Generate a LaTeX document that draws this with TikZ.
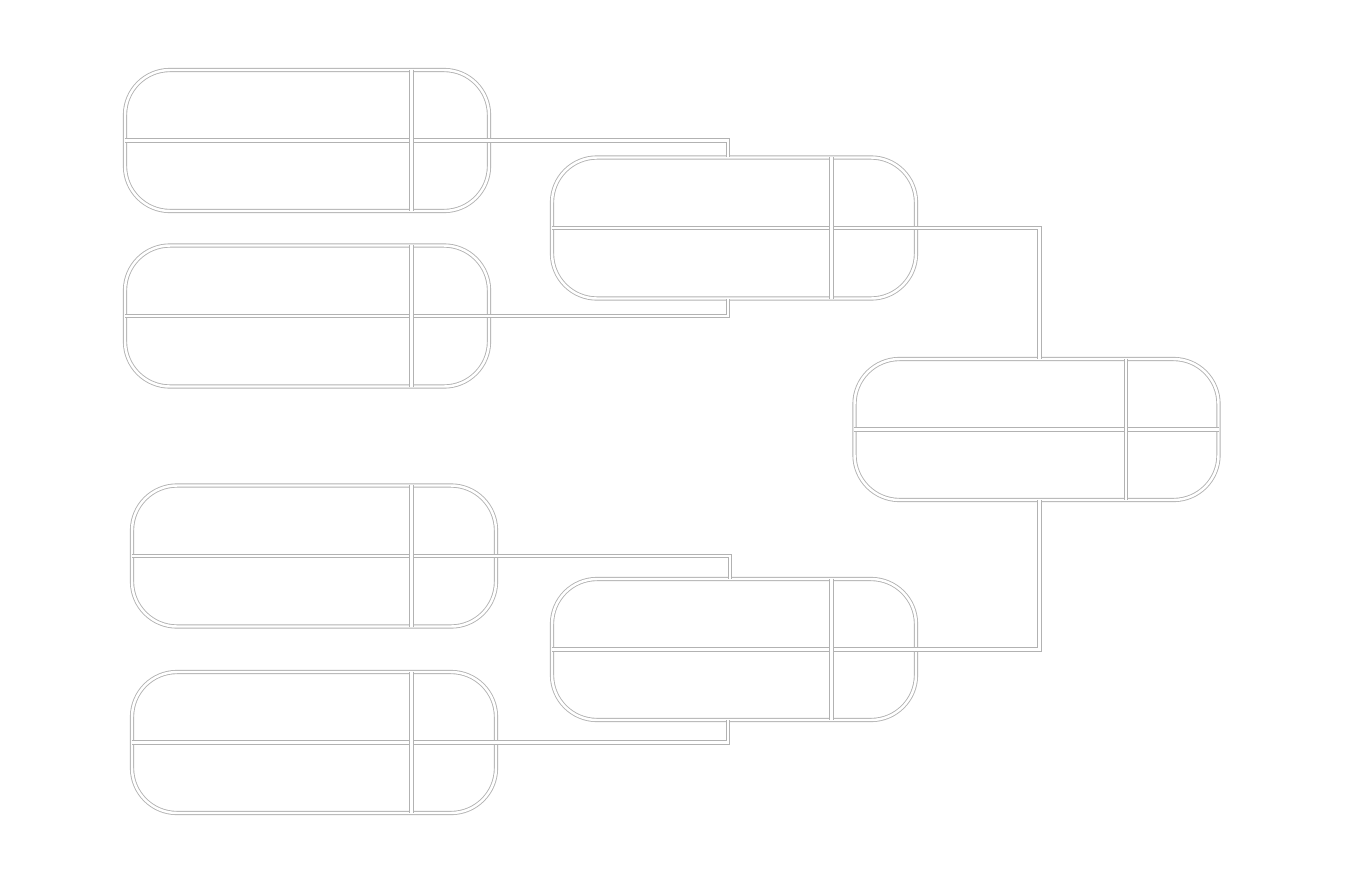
\documentclass[tikz,border=0pt]{standalone}
\usepackage{tikz}

\tikzset{
  edge/.style={draw=gray!60, line width=0.25pt, double=white, double distance=0.7pt},
  slot/.style={edge, rounded corners=0.45cm, minimum width=3.64cm, minimum height=1.41cm, inner sep=0pt},
  link/.style={edge}
}

\begin{document}
\begin{tikzpicture}
  \useasboundingbox (0,0) rectangle (13.48,-8.83);
  % bracket boxes: name / x / y / divider offset
  \foreach \n/\x/\y/\d in {a1/3.07/-1.405/0.78, a2/3.07/-3.16/0.78,
                           a3/3.14/-5.56/0.85, a4/3.14/-7.425/0.85,
                           b1/7.34/-2.28/0.85, b2/7.34/-6.495/0.85,
                           c/10.365/-4.295/0.93}{
    \node[slot] (\n) at (\x,\y) {};
    \draw[edge] (\n.west) -- (\n.east);
    \draw[edge] ([xshift=-\d cm]\n.north east) -- ([xshift=-\d cm]\n.south east);
  }
  % connectors
  \draw[link] (a1.east) -| ([xshift=-0.06cm]b1.north);
  \draw[link] (a2.east) -| ([xshift=-0.06cm]b1.south);
  \draw[link] (a3.east) -| ([xshift=-0.04cm]b2.north);
  \draw[link] (a4.east) -| ([xshift=-0.06cm]b2.south);
  \draw[link] (b1.east) -| ([xshift=0.03cm]c.north);
  \draw[link] (b2.east) -| ([xshift=0.03cm]c.south);
\end{tikzpicture}
\end{document}
